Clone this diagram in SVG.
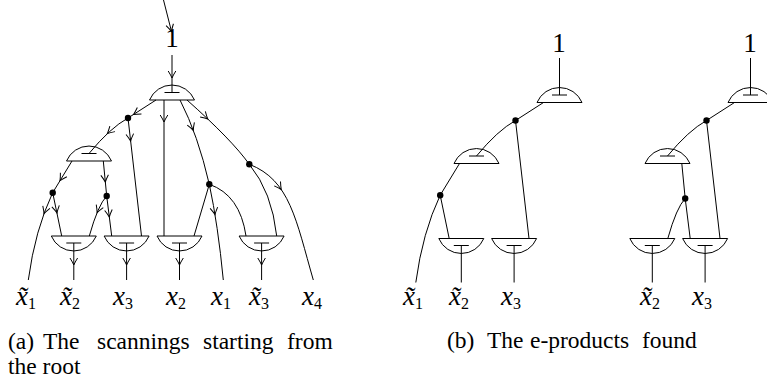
<svg xmlns="http://www.w3.org/2000/svg" xmlns:xlink="http://www.w3.org/1999/xlink" width="767" height="381" viewBox="0 0 767 381">
<style>
.ln{fill:none;stroke:#000;stroke-width:1}
.gate{fill:none;stroke:#000;stroke-width:1}
.dot{fill:#000}
.ah{fill:none;stroke:#000;stroke-width:1}
.m{font-family:"Liberation Serif","Times New Roman",serif;font-size:27px;fill:#000}
.mi{font-style:italic}
.sub{font-size:16px}
.cap{font-family:"Liberation Serif","Times New Roman",serif;font-size:23.5px;fill:#000}
</style>
<defs>
<path id="gup" d="M-22.5,0 A24.4,24.4 0 0 1 22.5,0 Z M-7.5,-7.5 H7.5"/>
<path id="gdn" d="M-22.5,0 A24.4,24.4 0 0 0 22.5,0 Z M-7.5,7 H7.5"/>
<path id="ah" d="M-7,-3.8 Q-2.5,-1 0,0 Q-2.5,1 -7,3.8"/>
</defs>
<rect width="767" height="381" fill="#fff"/>

<!-- (a) scannings -->
<g id="a-connectors" class="ln">
<path d="M163.5,0 L171.5,31.5"/>
<path d="M172,55 L172,92.5"/>
<path d="M156,100 L128,118"/>
<path d="M128,118 Q110,128 89,153.5"/>
<path d="M128,118 L141.5,236"/>
<path d="M164,100 L164,236"/>
<path d="M180,100 Q198,135 209.3,184.3"/>
<path d="M209.3,184.3 Q218,225 223.3,280"/>
<path d="M187,100 Q232,140 249.3,164.3"/>
<path d="M249.3,164.3 C290,180 296,220 313.3,280"/>
<path d="M249.3,164.3 Q272,192 276.7,236"/>
<path d="M209.3,184.3 Q240,195 246,236"/>
<path d="M209.3,184.3 L194,236"/>
<path d="M72,161 L52.7,192.7"/>
<path d="M103.3,161 L106.7,196"/>
<path d="M52.7,192.7 Q35,230 28.3,280"/>
<path d="M52.7,192.7 L61.7,236"/>
<path d="M106.7,196 Q98,205 89.3,236"/>
<path d="M106.7,196 L111.7,236"/>
<path d="M73.8,243 V280"/>
<path d="M126.6,243 V280"/>
<path d="M179.5,243 V280"/>
<path d="M261.6,243 V280"/>
</g>
<g id="a-arrows" class="ah">
<use xlink:href="#ah" href="#ah" transform="translate(171.5,31.5) rotate(75.5)"/>
<use xlink:href="#ah" href="#ah" transform="translate(172,78) rotate(90)"/>
<use xlink:href="#ah" href="#ah" transform="translate(133.5,114.5) rotate(147.3)"/>
<use xlink:href="#ah" href="#ah" transform="translate(107.3,133.6) rotate(137.1)"/>
<use xlink:href="#ah" href="#ah" transform="translate(130.6,141) rotate(83.5)"/>
<use xlink:href="#ah" href="#ah" transform="translate(164,122) rotate(90)"/>
<use xlink:href="#ah" href="#ah" transform="translate(193.3,130.3) rotate(69.4)"/>
<use xlink:href="#ah" href="#ah" transform="translate(207.8,119) rotate(43.5)"/>
<use xlink:href="#ah" href="#ah" transform="translate(281.3,189.5) rotate(55.6)"/>
<use xlink:href="#ah" href="#ah" transform="translate(215,214.6) rotate(80.7)"/>
<use xlink:href="#ah" href="#ah" transform="translate(60,180.7) rotate(121.3)"/>
<use xlink:href="#ah" href="#ah" transform="translate(105.3,182) rotate(84.5)"/>
<use xlink:href="#ah" href="#ah" transform="translate(44,213.7) rotate(109.8)"/>
<use xlink:href="#ah" href="#ah" transform="translate(57,213) rotate(78.3)"/>
<use xlink:href="#ah" href="#ah" transform="translate(97.1,212.6) rotate(112.4)"/>
<use xlink:href="#ah" href="#ah" transform="translate(109.3,217) rotate(82.9)"/>
<use xlink:href="#ah" href="#ah" transform="translate(73.8,265) rotate(90)"/>
<use xlink:href="#ah" href="#ah" transform="translate(126.6,265) rotate(90)"/>
<use xlink:href="#ah" href="#ah" transform="translate(179.5,265) rotate(90)"/>
<use xlink:href="#ah" href="#ah" transform="translate(261.6,265) rotate(90)"/>
</g>
<g id="a-root" class="gate" transform="translate(172,100)"><use xlink:href="#gup" href="#gup"/></g>
<g id="a-mid" class="gate" transform="translate(89,161)"><use xlink:href="#gup" href="#gup"/></g>
<g id="a-out1" class="gate" transform="translate(73.8,236)"><use xlink:href="#gdn" href="#gdn"/></g>
<g id="a-out2" class="gate" transform="translate(126.6,236)"><use xlink:href="#gdn" href="#gdn"/></g>
<g id="a-out3" class="gate" transform="translate(179.5,236)"><use xlink:href="#gdn" href="#gdn"/></g>
<g id="a-out4" class="gate" transform="translate(261.6,236)"><use xlink:href="#gdn" href="#gdn"/></g>
<g id="a-dots" class="dot">
<circle cx="128" cy="118" r="3.2"/>
<circle cx="52.7" cy="192.7" r="3.2"/>
<circle cx="106.7" cy="196" r="3.2"/>
<circle cx="209.3" cy="184.3" r="3.2"/>
<circle cx="249.3" cy="164.3" r="3.2"/>
</g>
<g id="a-labels" class="m">
<text x="172" y="47" text-anchor="middle">1</text>
<text x="16" y="305"><tspan class="mi">x&#771;</tspan><tspan class="sub" dy="4">1</tspan></text>
<text x="60" y="305"><tspan class="mi">x&#771;</tspan><tspan class="sub" dy="4">2</tspan></text>
<text x="113" y="305"><tspan class="mi">x</tspan><tspan class="sub" dy="4">3</tspan></text>
<text x="166" y="305"><tspan class="mi">x</tspan><tspan class="sub" dy="4">2</tspan></text>
<text x="211" y="305"><tspan class="mi">x</tspan><tspan class="sub" dy="4">1</tspan></text>
<text x="249" y="305"><tspan class="mi">x&#771;</tspan><tspan class="sub" dy="4">3</tspan></text>
<text x="302" y="305"><tspan class="mi">x</tspan><tspan class="sub" dy="4">4</tspan></text>
</g>

<!-- (b) first e-product -->
<g transform="translate(387.5,2.5)">
<g id="b1-connectors" class="ln">
<path d="M172,55.5 L172,92.5"/>
<path d="M156,100 L128,118"/>
<path d="M128,118 Q110,128 89,153.5"/>
<path d="M128,118 L141.5,236"/>
<path d="M72,161 L52.7,192.7"/>
<path d="M52.7,192.7 Q35,230 28.3,280"/>
<path d="M52.7,192.7 L61.7,236"/>
<path d="M73.8,243 V280"/>
<path d="M126.6,243 V280"/>
</g>
<g id="b1-root" class="gate" transform="translate(172,100)"><use xlink:href="#gup" href="#gup"/></g>
<g id="b1-mid" class="gate" transform="translate(89,161)"><use xlink:href="#gup" href="#gup"/></g>
<g id="b1-out1" class="gate" transform="translate(73.8,236)"><use xlink:href="#gdn" href="#gdn"/></g>
<g id="b1-out2" class="gate" transform="translate(126.6,236)"><use xlink:href="#gdn" href="#gdn"/></g>
<g id="b1-dots" class="dot">
<circle cx="128" cy="118" r="3.2"/>
<circle cx="52.7" cy="192.7" r="3.2"/>
</g>
</g>
<g id="b1-labels" class="m">
<text x="559" y="52" text-anchor="middle">1</text>
<text x="403" y="305"><tspan class="mi">x&#771;</tspan><tspan class="sub" dy="4">1</tspan></text>
<text x="449" y="305"><tspan class="mi">x&#771;</tspan><tspan class="sub" dy="4">2</tspan></text>
<text x="501" y="305"><tspan class="mi">x</tspan><tspan class="sub" dy="4">3</tspan></text>
</g>

<!-- (b) second e-product -->
<g transform="translate(578.5,2.5)">
<g id="b2-connectors" class="ln">
<path d="M172,55.5 L172,92.5"/>
<path d="M156,100 L128,118"/>
<path d="M128,118 Q110,128 89,153.5"/>
<path d="M128,118 L141.5,236"/>
<path d="M103.3,161 L106.7,196"/>
<path d="M106.7,196 Q98,205 89.3,236"/>
<path d="M106.7,196 L111.7,236"/>
<path d="M73.8,243 V280"/>
<path d="M126.6,243 V280"/>
</g>
<g id="b2-root" class="gate" transform="translate(172,100)"><use xlink:href="#gup" href="#gup"/></g>
<g id="b2-mid" class="gate" transform="translate(89,161)"><use xlink:href="#gup" href="#gup"/></g>
<g id="b2-out1" class="gate" transform="translate(73.8,236)"><use xlink:href="#gdn" href="#gdn"/></g>
<g id="b2-out2" class="gate" transform="translate(126.6,236)"><use xlink:href="#gdn" href="#gdn"/></g>
<g id="b2-dots" class="dot">
<circle cx="128" cy="118" r="3.2"/>
<circle cx="106.7" cy="196" r="3.2"/>
</g>
</g>
<g id="b2-labels" class="m">
<text x="750" y="52" text-anchor="middle">1</text>
<text x="640" y="305"><tspan class="mi">x&#771;</tspan><tspan class="sub" dy="4">2</tspan></text>
<text x="692" y="305"><tspan class="mi">x</tspan><tspan class="sub" dy="4">3</tspan></text>
</g>

<g id="captions" class="cap">
<text y="349"><tspan x="8">(a) </tspan><tspan x="43">The </tspan><tspan x="97">scannings </tspan><tspan x="203">starting </tspan><tspan x="287">from</tspan></text>
<text x="8" y="374">the root</text>
<text y="348"><tspan x="447">(b) </tspan><tspan x="487">The </tspan><tspan x="530">e-products </tspan><tspan x="642">found</tspan></text>
</g>
</svg>
